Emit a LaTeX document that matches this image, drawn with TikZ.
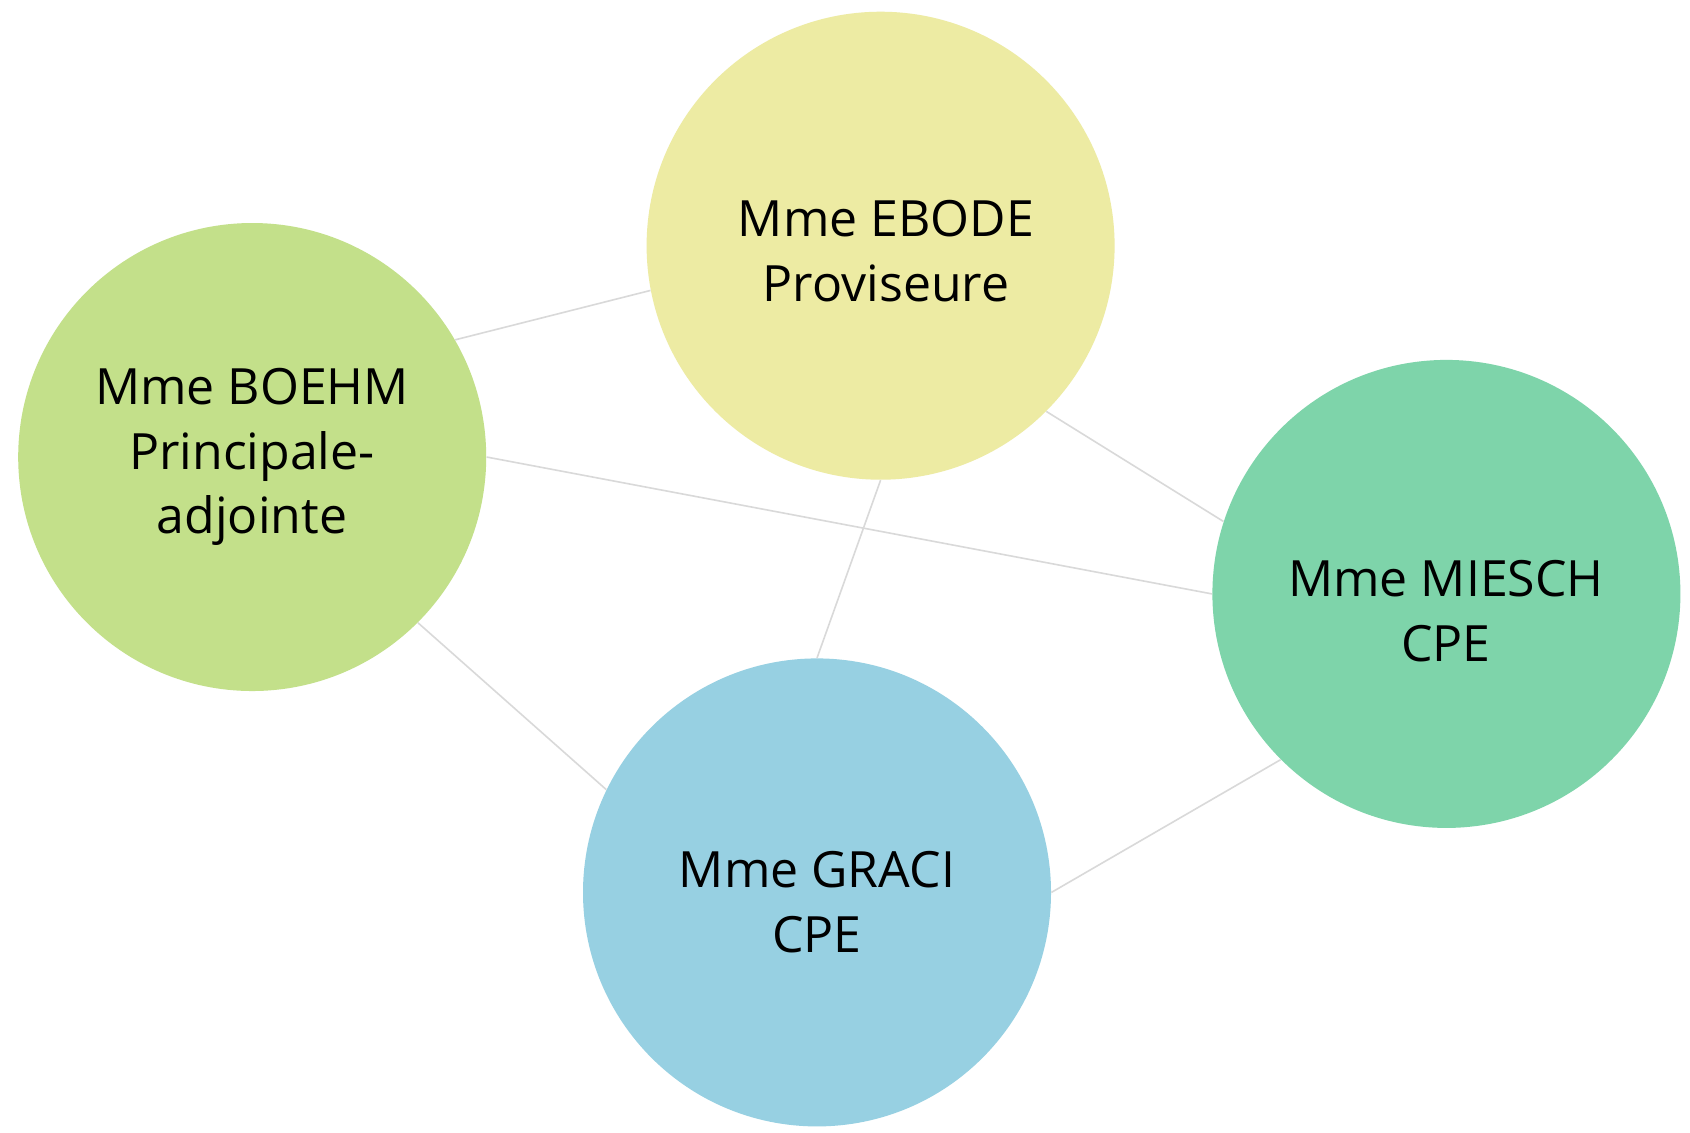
\documentclass[tikz,border=0pt]{standalone}
\usepackage{fontspec}
\setmainfont{Open Sans}
\definecolor{cEbode}{HTML}{EDEBA3}
\definecolor{cBoehm}{HTML}{C3E08A}
\definecolor{cMiesch}{HTML}{7ED4AA}
\definecolor{cGraci}{HTML}{97D0E2}
\definecolor{cLine}{HTML}{D9D9D9}
\begin{document}
\begin{tikzpicture}[x=0.5pt,y=-0.5pt,
  bubble/.style={circle,draw=none,minimum size=234pt,inner sep=0pt},
  lbl/.style={align=center,font=\fontsize{25}{32.4}\selectfont,text=black},
  link/.style={draw=cLine,line width=0.8pt}]
\useasboundingbox (0,0) rectangle (1690,1132);
\fill[white] (0,0) rectangle (1690,1132);
\node[bubble,fill=cEbode] (ebode) at (880.6,245.7) {};
\node[bubble,fill=cBoehm] (boehm) at (252.2,457.0) {};
\node[bubble,fill=cMiesch] (miesch) at (1446.4,593.9) {};
\node[bubble,fill=cGraci] (graci) at (817.0,892.4) {};
\draw[link] (boehm.30.6) -- (ebode.191.7);
\draw[link] (boehm.0) -- (miesch.180);
\draw[link] (ebode.315) -- (miesch.162.6);
\draw[link] (ebode.270) -- (graci.90);
\draw[link] (boehm.315) -- (graci.154.8);
\draw[link] (graci.0) -- (miesch.225);
\node[lbl] (tEbode) at (886,251) {Mme EBODE\\Proviseure};
\node[lbl] (tBoehm) at (252,457) {Mme BOEHM\\Principale-\\adjointe};
\node[lbl] (tMiesch) at (1446,611) {Mme MIESCH\\CPE};
\node[lbl] (tGraci) at (817,902) {Mme GRACI\\CPE};
\end{tikzpicture}
\end{document}
